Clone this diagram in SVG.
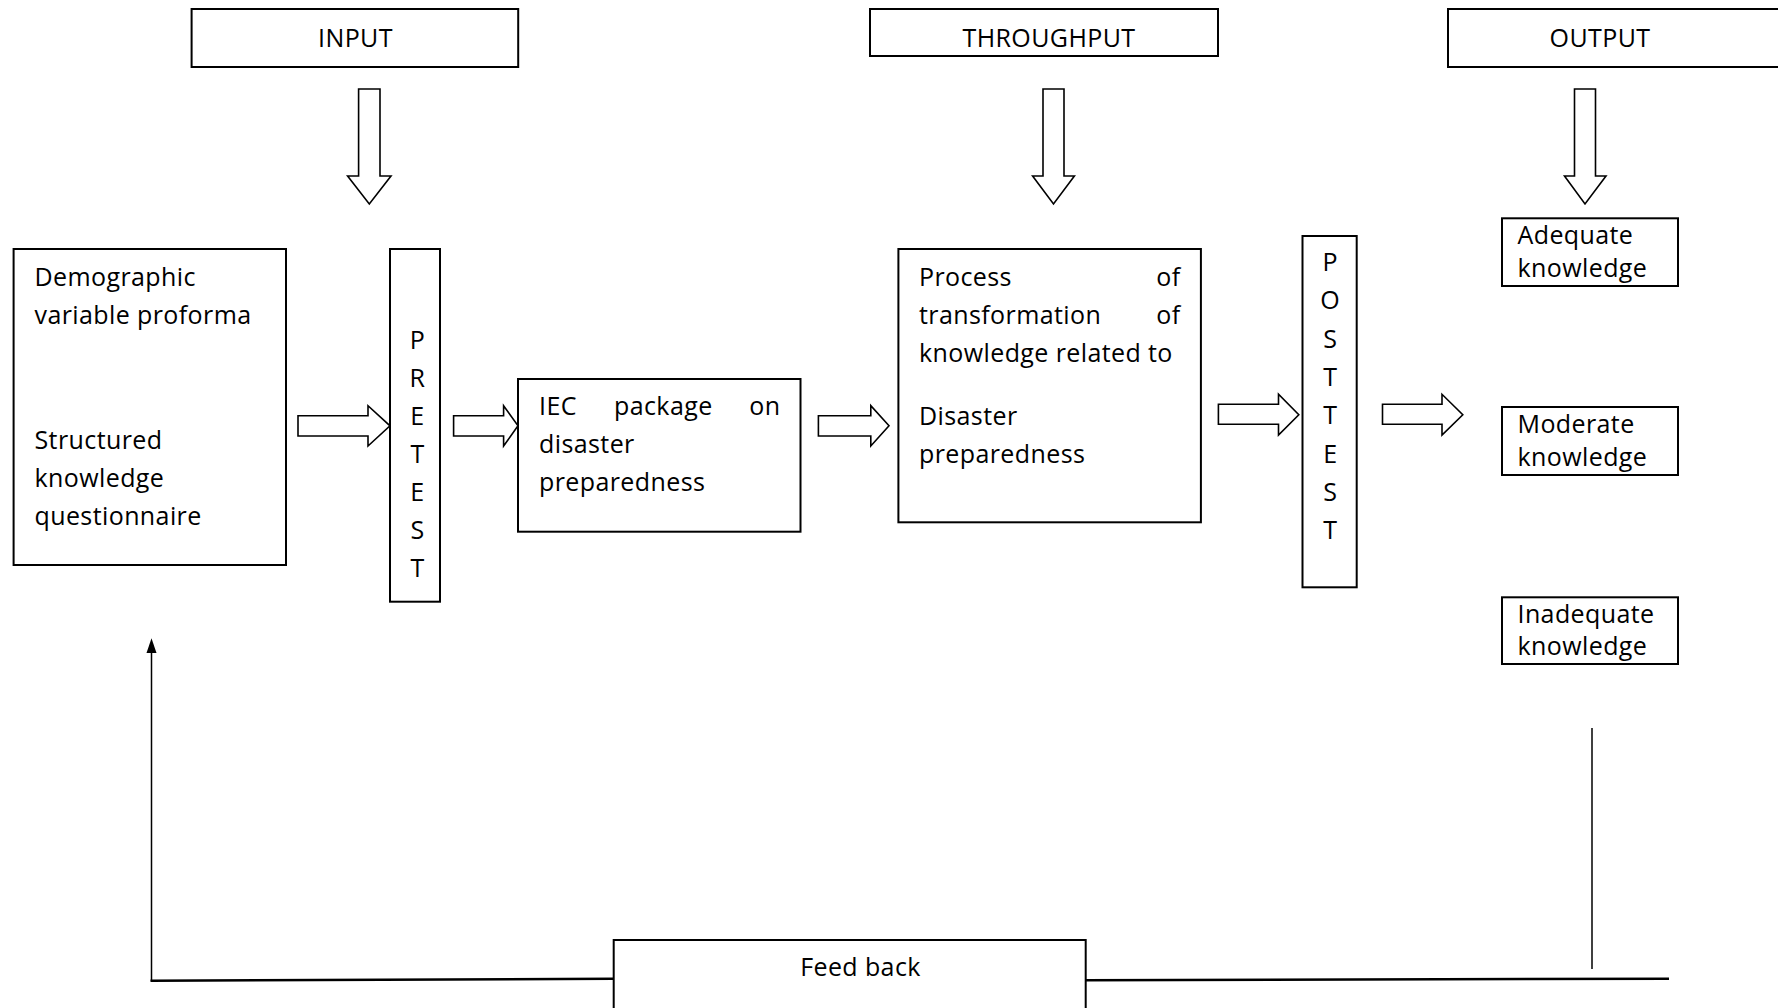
<svg xmlns="http://www.w3.org/2000/svg" width="1778" height="1008" viewBox="0 0 1778 1008">
  <style>
    .box { fill: #ffffff; stroke: #000000; stroke-width: 2; }
    .blk { fill: #ffffff; stroke: #000000; stroke-width: 1.6; stroke-linejoin: miter; }
    .t { font-family: "Open Sans", "Noto Sans", "Liberation Sans", sans-serif; font-size: 25px; letter-spacing: 0.4px; fill: #000000; }
    .c { text-anchor: middle; }
    .e { text-anchor: end; }
    .ln { fill: none; stroke: #000000; }
  </style>
  <rect width="1778" height="1008" fill="#ffffff"/>

  <!-- Stage headers -->
  <g id="input">
    <rect class="box" x="191.6" y="9" width="326.6" height="58"/>
    <text class="t c" x="355.5" y="46.5">INPUT</text>
  </g>
  <g id="throughput">
    <rect class="box" x="870" y="9" width="348" height="47"/>
    <text class="t c" x="1049" y="46.5">THROUGHPUT</text>
  </g>
  <g id="output">
    <rect class="box" x="1448" y="9" width="340" height="58"/>
    <text class="t c" x="1600" y="46.5">OUTPUT</text>
  </g>

  <!-- Input instruments -->
  <g id="instruments">
    <rect class="box" x="13.6" y="249" width="272.4" height="316"/>
    <text class="t" x="34.5" y="286">Demographic</text>
    <text class="t" x="34.5" y="324">variable proforma</text>
    <text class="t" x="34.5" y="449">Structured</text>
    <text class="t" x="34.5" y="487">knowledge</text>
    <text class="t" x="34.5" y="525">questionnaire</text>
  </g>

  <g id="pretest">
    <rect class="box" x="390" y="249" width="50" height="352.7"/>
    <text class="t c" x="417.5" y="349">P</text>
    <text class="t c" x="417.5" y="387">R</text>
    <text class="t c" x="417.5" y="425">E</text>
    <text class="t c" x="417.5" y="463">T</text>
    <text class="t c" x="417.5" y="501">E</text>
    <text class="t c" x="417.5" y="539">S</text>
    <text class="t c" x="417.5" y="577">T</text>
  </g>

  <g id="iec-package">
    <rect class="box" x="518" y="379" width="282.5" height="152.7"/>
    <text class="t" x="539" y="415">IEC</text>
    <text class="t" x="614" y="415">package</text>
    <text class="t e" x="780.5" y="415">on</text>
    <text class="t" x="539" y="453">disaster</text>
    <text class="t" x="539" y="491">preparedness</text>
  </g>

  <g id="process">
    <rect class="box" x="898.4" y="249" width="302.5" height="273.3"/>
    <text class="t" x="919" y="286">Process</text>
    <text class="t e" x="1180.5" y="286">of</text>
    <text class="t" x="919" y="324">transformation</text>
    <text class="t e" x="1180.5" y="324">of</text>
    <text class="t" x="919" y="362">knowledge related to</text>
    <text class="t" x="919" y="425">Disaster</text>
    <text class="t" x="919" y="463">preparedness</text>
  </g>

  <g id="posttest">
    <rect class="box" x="1302.5" y="236" width="54.2" height="351.3"/>
    <text class="t c" x="1330.3" y="271">P</text>
    <text class="t c" x="1330.3" y="309.3">O</text>
    <text class="t c" x="1330.3" y="347.6">S</text>
    <text class="t c" x="1330.3" y="385.9">T</text>
    <text class="t c" x="1330.3" y="424.2">T</text>
    <text class="t c" x="1330.3" y="462.5">E</text>
    <text class="t c" x="1330.3" y="500.8">S</text>
    <text class="t c" x="1330.3" y="539.1">T</text>
  </g>

  <!-- Knowledge levels -->
  <g id="adequate">
    <rect class="box" x="1502" y="218.3" width="176" height="67.7"/>
    <text class="t" x="1517.5" y="243.5">Adequate</text>
    <text class="t" x="1517.5" y="277">knowledge</text>
  </g>
  <g id="moderate">
    <rect class="box" x="1502" y="407" width="176" height="68"/>
    <text class="t" x="1517.5" y="432.5">Moderate</text>
    <text class="t" x="1517.5" y="466">knowledge</text>
  </g>
  <g id="inadequate">
    <rect class="box" x="1502" y="597.3" width="176" height="66.7"/>
    <text class="t" x="1517.5" y="622.5">Inadequate</text>
    <text class="t" x="1517.5" y="655">knowledge</text>
  </g>

  <g id="feedback">
    <rect class="box" x="613.7" y="940" width="472" height="80"/>
    <text class="t c" x="860.5" y="976">Feed back</text>
  </g>

  <g id="connectors">
    <!-- downward block arrows under the stage headers -->
    <polygon class="blk" points="358.6,89 380,89 380,176 391,176 369.3,204 347.6,176 358.6,176"/>
    <polygon class="blk" points="1043,89 1064,89 1064,176 1074.4,176 1053.5,204 1032.6,176 1043,176"/>
    <polygon class="blk" points="1574.5,89 1595.5,89 1595.5,176 1606,176 1585,204 1564.5,176 1574.5,176"/>

    <!-- rightward block arrows along the main flow -->
    <polygon class="blk" points="298,415.7 368,415.7 368,405.7 390,425.8 368,446 368,436 298,436"/>
    <polygon class="blk" points="453.6,415.7 503.6,415.7 503.6,405.7 518,425.8 503.6,446 503.6,436 453.6,436"/>
    <polygon class="blk" points="818.4,415.7 870.8,415.7 870.8,405.7 889,425.8 870.8,446 870.8,436 818.4,436"/>
    <polygon class="blk" points="1218.4,404.3 1278.5,404.3 1278.5,394.3 1298.8,414.7 1278.5,435 1278.5,424.3 1218.4,424.3"/>
    <polygon class="blk" points="1382.5,404.3 1442,404.3 1442,394.3 1462.8,414.7 1442,435 1442,424.3 1382.5,424.3"/>

    <!-- feedback loop -->
    <line class="ln" x1="1592" y1="728" x2="1592" y2="969" stroke-width="1.5"/>
    <line class="ln" x1="1085.7" y1="980.3" x2="1669" y2="978.7" stroke-width="2.5"/>
    <line class="ln" x1="150.5" y1="980.7" x2="613.7" y2="978.7" stroke-width="2.5"/>
    <line class="ln" x1="151.5" y1="981" x2="151.5" y2="650" stroke-width="1.5"/>
    <polygon points="151.5,638.3 156.5,653 146.5,653" fill="#000000"/>
  </g>
</svg>
